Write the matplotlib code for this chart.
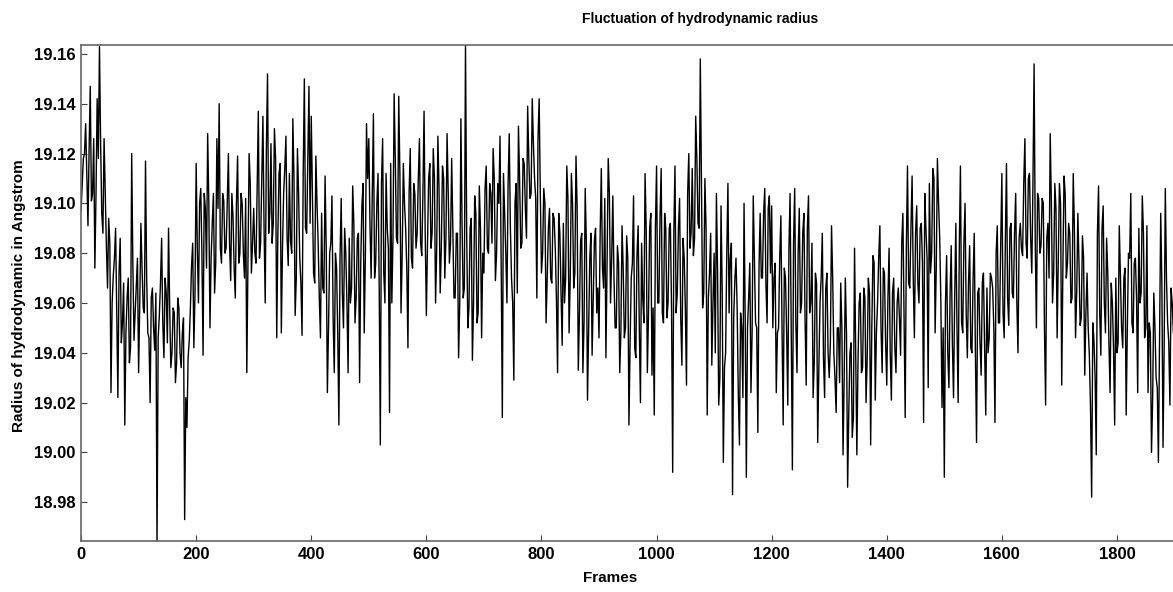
#!/usr/bin/env python3
"""Fluctuation of the hydrodynamic radius along the trajectory."""
import numpy as np
import matplotlib
matplotlib.use("Agg")
import matplotlib.pyplot as plt

# radius (Angstrom), grouped by 100-frame blocks.
# block_XXXX holds frames XXXX, XXXX+4, ...; mid_XXXX holds frames XXXX+2, XXXX+6, ...
FRAME_STEP = 2
block_0000 = [19.097, 19.118, 19.132, 19.091, 19.147, 19.104, 19.074, 19.142, 19.163, 19.096, 19.126, 19.083, 19.094,
              19.024, 19.071, 19.090, 19.022, 19.086, 19.052, 19.011, 19.062, 19.036, 19.120, 19.045, 19.068]
mid_0000 = [19.108, 19.120, 19.112, 19.122, 19.101, 19.126, 19.104, 19.118, 19.124, 19.088, 19.104, 19.066, 19.084,
            19.060, 19.078, 19.055, 19.072, 19.044, 19.068, 19.048, 19.070, 19.042, 19.076, 19.056, 19.078]
block_0100 = [19.032, 19.092, 19.058, 19.117, 19.048, 19.020, 19.066, 19.041, 18.962, 19.055, 19.086, 19.038, 19.064,
              19.090, 19.034, 19.058, 19.028, 19.062, 19.040, 19.048, 18.973, 19.010, 19.045, 19.075, 19.042]
mid_0100 = [19.060, 19.074, 19.056, 19.070, 19.046, 19.062, 19.050, 19.064, 19.046, 19.068, 19.052, 19.070, 19.044,
            19.058, 19.040, 19.056, 19.036, 19.058, 19.034, 19.054, 19.022, 19.038, 19.058, 19.084, 19.064]
block_0200 = [19.116, 19.060, 19.106, 19.039, 19.098, 19.128, 19.050, 19.092, 19.064, 19.126, 19.140, 19.076, 19.101,
              19.082, 19.120, 19.069, 19.095, 19.062, 19.119, 19.080, 19.100, 19.070, 19.032, 19.120, 19.072]
mid_0200 = [19.082, 19.100, 19.080, 19.104, 19.074, 19.100, 19.078, 19.104, 19.076, 19.098, 19.082, 19.104, 19.080,
            19.100, 19.084, 19.104, 19.074, 19.100, 19.076, 19.104, 19.080, 19.102, 19.074, 19.108, 19.084]
block_0300 = [19.098, 19.076, 19.137, 19.084, 19.135, 19.060, 19.152, 19.096, 19.084, 19.130, 19.046, 19.112, 19.048,
              19.104, 19.127, 19.075, 19.085, 19.134, 19.055, 19.122, 19.078, 19.047, 19.150, 19.088, 19.147]
mid_0300 = [19.080, 19.108, 19.078, 19.110, 19.090, 19.122, 19.088, 19.124, 19.092, 19.118, 19.088, 19.116, 19.082,
            19.114, 19.086, 19.112, 19.080, 19.110, 19.070, 19.104, 19.068, 19.112, 19.090, 19.118, 19.092]
block_0400 = [19.135, 19.072, 19.119, 19.084, 19.046, 19.066, 19.111, 19.024, 19.080, 19.103, 19.032, 19.074, 19.011,
              19.102, 19.050, 19.080, 19.032, 19.060, 19.107, 19.052, 19.086, 19.028, 19.099, 19.048, 19.132]
mid_0400 = [19.104, 19.068, 19.100, 19.062, 19.096, 19.064, 19.082, 19.050, 19.084, 19.054, 19.080, 19.048, 19.078,
            19.064, 19.090, 19.060, 19.086, 19.066, 19.092, 19.062, 19.088, 19.076, 19.108, 19.078, 19.110]
block_0500 = [19.126, 19.070, 19.136, 19.076, 19.112, 19.003, 19.126, 19.060, 19.090, 19.016, 19.060, 19.144, 19.086,
              19.143, 19.056, 19.116, 19.090, 19.042, 19.122, 19.074, 19.104, 19.088, 19.126, 19.079, 19.137]
mid_0500 = [19.092, 19.104, 19.070, 19.100, 19.068, 19.108, 19.072, 19.112, 19.082, 19.116, 19.086, 19.118, 19.084,
            19.112, 19.080, 19.100, 19.074, 19.104, 19.078, 19.108, 19.082, 19.110, 19.084, 19.104, 19.088]
block_0600 = [19.055, 19.110, 19.082, 19.122, 19.060, 19.127, 19.064, 19.115, 19.070, 19.128, 19.076, 19.118, 19.062,
              19.088, 19.038, 19.134, 19.062, 19.164, 19.050, 19.090, 19.037, 19.103, 19.052, 19.107, 19.046]
mid_0600 = [19.084, 19.116, 19.088, 19.110, 19.082, 19.106, 19.082, 19.110, 19.086, 19.104, 19.084, 19.090, 19.062,
            19.088, 19.060, 19.092, 19.066, 19.090, 19.058, 19.094, 19.060, 19.096, 19.056, 19.090, 19.080]
block_0700 = [19.072, 19.115, 19.080, 19.104, 19.122, 19.069, 19.108, 19.127, 19.014, 19.096, 19.060, 19.128, 19.070,
              19.029, 19.108, 19.131, 19.082, 19.118, 19.098, 19.139, 19.102, 19.142, 19.110, 19.062, 19.142]
mid_0700 = [19.106, 19.082, 19.108, 19.084, 19.110, 19.080, 19.100, 19.076, 19.112, 19.080, 19.108, 19.090, 19.060,
            19.100, 19.064, 19.110, 19.084, 19.116, 19.086, 19.118, 19.104, 19.124, 19.102, 19.126, 19.104]
block_0800 = [19.072, 19.106, 19.052, 19.090, 19.070, 19.096, 19.082, 19.032, 19.088, 19.043, 19.060, 19.115, 19.048,
              19.112, 19.066, 19.119, 19.033, 19.085, 19.032, 19.106, 19.021, 19.078, 19.039, 19.085, 19.056]
mid_0800 = [19.080, 19.100, 19.070, 19.098, 19.068, 19.094, 19.062, 19.096, 19.064, 19.092, 19.070, 19.102, 19.070,
            19.100, 19.072, 19.098, 19.056, 19.088, 19.052, 19.084, 19.050, 19.088, 19.062, 19.090, 19.066]
block_0900 = [19.046, 19.114, 19.066, 19.038, 19.118, 19.060, 19.103, 19.050, 19.083, 19.032, 19.091, 19.046, 19.087,
              19.011, 19.070, 19.103, 19.038, 19.091, 19.020, 19.062, 19.112, 19.032, 19.090, 19.031, 19.015]
mid_0900 = [19.088, 19.074, 19.102, 19.076, 19.104, 19.078, 19.070, 19.050, 19.076, 19.048, 19.074, 19.050, 19.078,
            19.044, 19.076, 19.042, 19.080, 19.050, 19.084, 19.052, 19.090, 19.056, 19.096, 19.058, 19.090]
block_1000 = [19.115, 19.060, 19.114, 19.052, 19.090, 19.060, 19.092, 18.992, 19.115, 19.064, 19.102, 19.035, 19.078,
              19.027, 19.120, 19.088, 19.079, 19.135, 19.092, 19.158, 19.058, 19.110, 19.015, 19.072, 19.035]
mid_1000 = [19.060, 19.094, 19.056, 19.096, 19.054, 19.090, 19.058, 19.088, 19.056, 19.090, 19.054, 19.086, 19.058,
            19.104, 19.082, 19.114, 19.086, 19.118, 19.090, 19.110, 19.064, 19.090, 19.062, 19.088, 19.060]
block_1100 = [19.080, 19.104, 19.019, 19.099, 18.996, 19.040, 19.108, 19.078, 18.983, 19.069, 19.058, 19.003, 19.050,
              19.100, 18.990, 19.062, 19.024, 19.103, 19.052, 19.008, 19.096, 19.070, 19.106, 19.052, 19.103]
mid_1100 = [19.040, 19.072, 19.030, 19.066, 19.034, 19.080, 19.056, 19.084, 19.054, 19.078, 19.024, 19.056, 19.022,
            19.054, 19.050, 19.076, 19.048, 19.078, 19.050, 19.074, 19.070, 19.096, 19.068, 19.098, 19.072]
block_1200 = [19.099, 19.070, 19.024, 19.050, 19.095, 19.011, 19.070, 19.019, 19.104, 18.993, 19.106, 19.032, 19.098,
              19.060, 19.096, 19.027, 19.103, 19.060, 19.022, 19.072, 19.004, 19.060, 19.088, 19.022, 19.072]
mid_1200 = [19.050, 19.076, 19.048, 19.078, 19.050, 19.074, 19.048, 19.082, 19.050, 19.084, 19.052, 19.080, 19.056,
            19.088, 19.054, 19.090, 19.056, 19.084, 19.036, 19.068, 19.034, 19.070, 19.038, 19.066, 19.040]
block_1300 = [19.030, 19.091, 19.040, 19.016, 19.050, 19.068, 18.999, 19.070, 18.986, 19.040, 19.006, 19.082, 18.999,
              19.060, 19.032, 19.066, 19.020, 19.070, 19.003, 19.079, 19.021, 19.060, 19.091, 19.032, 19.072]
mid_1300 = [19.044, 19.070, 19.030, 19.050, 19.028, 19.050, 19.030, 19.048, 19.016, 19.044, 19.014, 19.042, 19.036,
            19.064, 19.034, 19.062, 19.038, 19.064, 19.050, 19.076, 19.048, 19.078, 19.050, 19.074, 19.044]
block_1400 = [19.027, 19.082, 19.021, 19.070, 19.032, 19.066, 19.039, 19.096, 19.014, 19.115, 19.066, 19.111, 19.046,
              19.099, 19.060, 19.092, 19.012, 19.090, 19.026, 19.072, 19.114, 19.048, 19.118, 19.086, 19.018]
mid_1400 = [19.062, 19.040, 19.064, 19.042, 19.060, 19.054, 19.084, 19.056, 19.082, 19.068, 19.090, 19.070, 19.088,
            19.068, 19.090, 19.076, 19.104, 19.078, 19.108, 19.080, 19.110, 19.074, 19.100, 19.060, 19.050]
block_1500 = [18.990, 19.079, 19.026, 19.083, 19.022, 19.092, 19.020, 19.115, 19.048, 19.100, 19.038, 19.083, 19.040,
              19.088, 19.004, 19.066, 19.031, 19.072, 19.015, 19.040, 19.072, 19.066, 19.012, 19.091, 19.052]
mid_1500 = [19.060, 19.040, 19.064, 19.044, 19.062, 19.050, 19.082, 19.052, 19.084, 19.056, 19.068, 19.042, 19.070,
            19.040, 19.064, 19.044, 19.068, 19.042, 19.066, 19.046, 19.070, 19.050, 19.080, 19.052, 19.084]
block_1600 = [19.112, 19.046, 19.116, 19.051, 19.092, 19.062, 19.104, 19.040, 19.092, 19.079, 19.126, 19.078, 19.112,
              19.072, 19.156, 19.050, 19.102, 19.083, 19.100, 19.019, 19.092, 19.128, 19.060, 19.108, 19.046]
mid_1600 = [19.056, 19.084, 19.062, 19.090, 19.064, 19.088, 19.060, 19.086, 19.082, 19.108, 19.084, 19.110, 19.086,
            19.108, 19.084, 19.104, 19.080, 19.102, 19.050, 19.086, 19.070, 19.100, 19.072, 19.098, 19.076]
block_1700 = [19.108, 19.027, 19.111, 19.070, 19.092, 19.060, 19.112, 19.046, 19.096, 19.051, 19.087, 19.031, 19.072,
              19.039, 18.982, 19.045, 18.999, 19.107, 19.039, 19.099, 19.048, 19.072, 19.024, 19.060, 19.011]
mid_1700 = [19.100, 19.074, 19.104, 19.076, 19.088, 19.062, 19.090, 19.064, 19.076, 19.054, 19.078, 19.056, 19.050,
            19.018, 19.052, 19.030, 19.088, 19.056, 19.090, 19.060, 19.086, 19.044, 19.068, 19.042, 19.070]
block_1800 = [19.040, 19.091, 19.050, 19.070, 19.015, 19.080, 19.104, 19.048, 19.078, 19.024, 19.060, 19.103, 19.046,
              19.091, 19.052, 19.000, 19.064, 19.030, 18.996, 19.096, 19.002, 19.106, 19.052, 19.019, 19.060]
mid_1800 = [19.044, 19.070, 19.042, 19.074, 19.050, 19.078, 19.052, 19.076, 19.062, 19.090, 19.064, 19.088, 19.050,
            19.024, 19.048, 19.022, 19.050, 19.026, 19.044, 19.068, 19.042, 19.070, 19.044, 19.066, 19.048]

y_ticks = [18.98, 19.00, 19.02, 19.04, 19.06, 19.08, 19.10, 19.12, 19.14, 19.16]
x_ticks = [0, 200, 400, 600, 800, 1000, 1200, 1400, 1600, 1800]

on_step = np.concatenate([block_0000, block_0100, block_0200, block_0300, block_0400, block_0500, block_0600,
                          block_0700, block_0800, block_0900, block_1000, block_1100, block_1200, block_1300,
                          block_1400, block_1500, block_1600, block_1700, block_1800])
half_step = np.concatenate([mid_0000, mid_0100, mid_0200, mid_0300, mid_0400, mid_0500, mid_0600,
                            mid_0700, mid_0800, mid_0900, mid_1000, mid_1100, mid_1200, mid_1300,
                            mid_1400, mid_1500, mid_1600, mid_1700, mid_1800])
radius = np.column_stack([on_step, half_step]).ravel()
frames = np.arange(len(radius)) * FRAME_STEP

plt.rcParams["font.family"] = ["Liberation Sans", "DejaVu Sans"]
plt.rcParams["font.weight"] = "bold"

fig = plt.figure(figsize=(11.73, 5.92), dpi=100)
ax = fig.add_axes([0.0691, 0.0861, 0.9322, 0.8379])
ax.plot(frames, radius, color="black", lw=1.0)

ax.set_xlim(0, 1900)
ax.set_ylim(18.9644, 19.1636)
ax.set_xticks(x_ticks)
ax.set_yticks(y_ticks)
ax.set_yticklabels([f"{v:.2f}" for v in y_ticks])
ax.tick_params(direction="in", length=4, width=0.8, labelsize=12, colors="#444444", labelcolor="black", pad=4)
for lab in ax.get_xticklabels() + ax.get_yticklabels():
    lab.set_fontweight("bold")
for sp in ax.spines.values():
    sp.set_color("#666666")
    sp.set_linewidth(1.2)

fig.text(0.597, 0.968, "Fluctuation of hydrodynamic radius", ha="center", va="center", fontsize=10, fontweight="bold")
fig.text(0.52, 0.012, "Frames", ha="center", va="bottom", fontsize=11, fontweight="bold")
fig.text(0.016, 0.50, "Radius of hydrodynamic in Angstrom", ha="center", va="center", rotation=90,
         fontsize=11, fontweight="bold")

fig.savefig("out.png", dpi=100)
